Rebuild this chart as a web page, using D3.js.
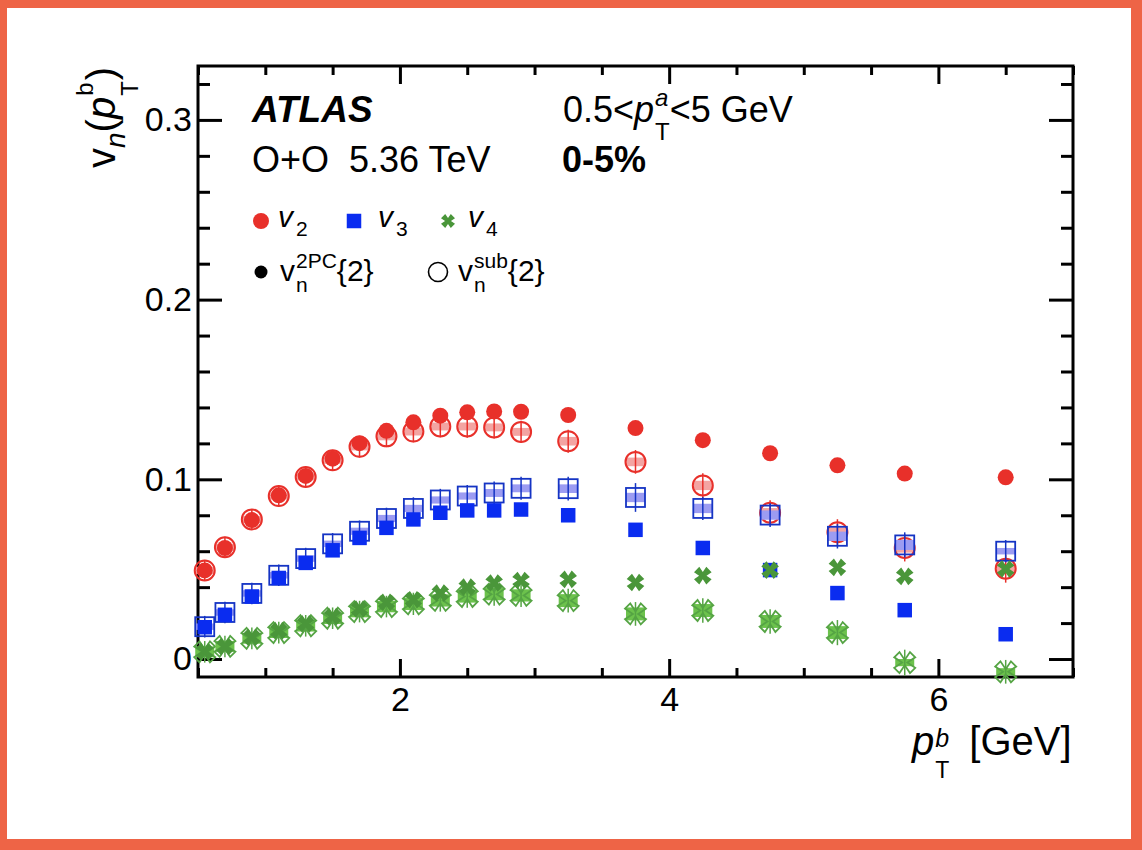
<!DOCTYPE html>
<html>
<head>
<meta charset="utf-8">
<script src="https://cdn.jsdelivr.net/npm/d3@7"></script>
<style>
  body { margin: 0; background: #fff; }
  text { font-family: "Liberation Sans", Arial, Helvetica, sans-serif; fill: #000; }
</style>
</head>
<body>
<svg id="chart" width="1142" height="850"></svg>
<script>
// pT^b bin centres [GeV]
const pt = [0.55, 0.7, 0.9, 1.1, 1.3, 1.5, 1.7, 1.9, 2.1, 2.3, 2.5, 2.7, 2.9, 3.25, 3.75, 4.25, 4.75, 5.25, 5.75, 6.5];

// v_n^{2PC}{2}
const v2_2pc = [0.0493, 0.0618, 0.0773, 0.0911, 0.1019, 0.1115, 0.1201, 0.1270, 0.1317, 0.1354, 0.1373, 0.1378, 0.1376, 0.1358, 0.1285, 0.1218, 0.1145, 0.1078, 0.1032, 0.1011];
const v3_2pc = [0.0177, 0.0246, 0.0348, 0.0451, 0.0535, 0.0605, 0.0674, 0.0730, 0.0777, 0.0814, 0.0827, 0.0827, 0.0832, 0.0800, 0.0719, 0.0618, 0.0495, 0.0367, 0.0272, 0.0138];
const v4_2pc = [0.0041, 0.0069, 0.0121, 0.0158, 0.0196, 0.0236, 0.0278, 0.0315, 0.0330, 0.0367, 0.0400, 0.0423, 0.0437, 0.0443, 0.0426, 0.0464, 0.0495, 0.0510, 0.0460, 0.0501];

// v_n^{sub}{2}
const v2_sub = [0.0493, 0.0622, 0.0777, 0.0907, 0.1013, 0.1106, 0.1181, 0.1239, 0.1266, 0.1294, 0.1294, 0.1289, 0.1264, 0.1212, 0.1097, 0.0966, 0.0814, 0.0706, 0.0618, 0.0503];
const v3_sub = [0.0180, 0.0259, 0.0365, 0.0466, 0.0559, 0.0641, 0.0711, 0.0782, 0.0838, 0.0885, 0.0907, 0.0924, 0.0950, 0.0948, 0.0899, 0.0838, 0.0801, 0.0683, 0.0635, 0.0600];
const v4_sub = [0.0040, 0.0070, 0.0115, 0.0147, 0.0185, 0.0227, 0.0264, 0.0292, 0.0307, 0.0326, 0.0348, 0.0361, 0.0354, 0.0325, 0.0251, 0.0270, 0.0209, 0.0147, -0.0020, -0.0071];

// statistical errors of the sub points
const v2_sub_stat = [0.0058, 0.0058, 0.0058, 0.0058, 0.0058, 0.0058, 0.0060, 0.0060, 0.0060, 0.0060, 0.0062, 0.0062, 0.0062, 0.0064, 0.0066, 0.0068, 0.0070, 0.0072, 0.0075, 0.0078];
const v3_sub_stat = [0.0060, 0.0060, 0.0060, 0.0060, 0.0060, 0.0060, 0.0060, 0.0060, 0.0062, 0.0062, 0.0062, 0.0064, 0.0064, 0.0066, 0.0080, 0.0064, 0.0066, 0.0068, 0.0070, 0.0062];
const v4_sub_stat = [0.0060, 0.0060, 0.0060, 0.0060, 0.0060, 0.0060, 0.0060, 0.0060, 0.0062, 0.0062, 0.0062, 0.0064, 0.0064, 0.0066, 0.0066, 0.0068, 0.0068, 0.0070, 0.0072, 0.0066];

// systematic errors of the sub points (boxes)
const v2_sub_sys = [0.0020, 0.0020, 0.0020, 0.0020, 0.0020, 0.0020, 0.0020, 0.0022, 0.0022, 0.0022, 0.0022, 0.0022, 0.0022, 0.0024, 0.0024, 0.0026, 0.0026, 0.0026, 0.0026, 0.0026];
const v3_sub_sys = [0.0018, 0.0018, 0.0018, 0.0018, 0.0018, 0.0018, 0.0020, 0.0020, 0.0020, 0.0020, 0.0020, 0.0022, 0.0022, 0.0024, 0.0026, 0.0026, 0.0026, 0.0026, 0.0028, 0.0018];
const v4_sub_sys = [0.0030, 0.0030, 0.0030, 0.0030, 0.0032, 0.0032, 0.0032, 0.0032, 0.0034, 0.0034, 0.0034, 0.0034, 0.0034, 0.0036, 0.0036, 0.0036, 0.0036, 0.0036, 0.0020, 0.0020];

const xMajor = [2, 4, 6];
const xMinor = [0.5, 1, 1.5, 2.5, 3, 3.5, 4.5, 5, 5.5, 6.5, 7];
const yMajor = [0, 0.1, 0.2, 0.3];
const yMinor = [0.02, 0.04, 0.06, 0.08, 0.12, 0.14, 0.16, 0.18, 0.22, 0.24, 0.26, 0.28, 0.32];

const svg = d3.select('#chart');
const W = 1142, H = 850;

// orange frame round the picture
svg.append('rect').attr('width', W).attr('height', H).attr('fill', '#ee6446');
svg.append('rect').attr('x', 7).attr('y', 8).attr('width', 1124).attr('height', 831).attr('fill', '#fff');

const x = d3.scaleLinear().domain([0.5, 7]).range([198, 1073]);
const y = d3.scaleLinear().domain([-0.01, 0.33]).range([677, 66]);
const [x0, x1] = x.range();
const [y0, y1] = y.range();

// axes: ticks point inward on all four sides
const xFmt = d3.format('d');
const yFmt = d => d === 0 ? '0' : d3.format('.1f')(d);
function styleAxis(g) {
    g.select('.domain').remove();
    g.selectAll('line').attr('stroke', '#000').attr('stroke-width', 3);
    g.selectAll('text').attr('font-size', 34).attr('font-family', '"Liberation Sans", Arial, sans-serif').attr('fill', '#000');
}
svg.append('g').attr('transform', `translate(0,${y0})`)
    .call(d3.axisBottom(x).tickValues(xMajor).tickSize(-18).tickPadding(10).tickFormat(xFmt)).call(styleAxis);
svg.append('g').attr('transform', `translate(0,${y0})`)
    .call(d3.axisBottom(x).tickValues(xMinor).tickSize(-9).tickFormat('')).call(styleAxis);
svg.append('g').attr('transform', `translate(0,${y1})`)
    .call(d3.axisTop(x).tickValues(xMajor).tickSize(-18).tickFormat('')).call(styleAxis);
svg.append('g').attr('transform', `translate(0,${y1})`)
    .call(d3.axisTop(x).tickValues(xMinor).tickSize(-9).tickFormat('')).call(styleAxis);
svg.append('g').attr('transform', `translate(${x0},0)`)
    .call(d3.axisLeft(y).tickValues(yMajor).tickSize(-24).tickPadding(6).tickFormat(yFmt)).call(styleAxis);
svg.append('g').attr('transform', `translate(${x0},0)`)
    .call(d3.axisLeft(y).tickValues(yMinor).tickSize(-12).tickFormat('')).call(styleAxis);
svg.append('g').attr('transform', `translate(${x1},0)`)
    .call(d3.axisRight(y).tickValues(yMajor).tickSize(-24).tickFormat('')).call(styleAxis);
svg.append('g').attr('transform', `translate(${x1},0)`)
    .call(d3.axisRight(y).tickValues(yMinor).tickSize(-12).tickFormat('')).call(styleAxis);

svg.append('rect').attr('x', x0).attr('y', y1).attr('width', x1 - x0).attr('height', y0 - y1)
    .attr('fill', 'none').attr('stroke', '#000').attr('stroke-width', 3);

// ROOT style "four triangles X" marker; notch sets how deep the cuts go
function fourTriX(r, notch, corner) {
    const n = notch, c = corner;
    const p = [[0, n], [c, 1], [1, c], [n, 0], [1, -c], [c, -1],
               [0, -n], [-c, -1], [-1, -c], [-n, 0], [-1, c], [-c, 1]];
    return 'M' + p.map(q => (q[0] * r).toFixed(2) + ',' + (q[1] * r).toFixed(2)).join('L') + 'Z';
}

const plot = svg.append('g');

const series = [
    { filled: v2_2pc, open: v2_sub, stat: v2_sub_stat, sys: v2_sub_sys, shape: 'circle',
      color: '#e8302a', line: '#e8302a', box: '#f3a4a2' },
    { filled: v3_2pc, open: v3_sub, stat: v3_sub_stat, sys: v3_sub_sys, shape: 'square',
      color: '#0a2cf0', line: '#1534c4', box: '#9c9cf2' },
    { filled: v4_2pc, open: v4_sub, stat: v4_sub_stat, sys: v4_sub_sys, shape: 'x',
      color: '#4a963a', line: '#55a444', box: '#6cc24c' },
];

function marker(g, shape, filled, color, cx, cy) {
    if (shape === 'circle') {
        g.append('circle').attr('cx', cx).attr('cy', cy).attr('r', filled ? 8 : 10)
            .attr('fill', filled ? color : 'none').attr('stroke', color).attr('stroke-width', filled ? 0 : 2);
    } else if (shape === 'square') {
        const s = filled ? 14.5 : 19;
        g.append('rect').attr('x', cx - s / 2).attr('y', cy - s / 2).attr('width', s).attr('height', s)
            .attr('fill', filled ? color : 'none').attr('stroke', color).attr('stroke-width', filled ? 0 : 1.8);
    } else if (filled) {
        g.append('path').attr('d', fourTriX(8.8, 0.42, 0.4)).attr('transform', `translate(${cx},${cy})`)
            .attr('fill', color);
    } else {
        g.append('path').attr('d', fourTriX(10.5, 0.25, 0.5)).attr('transform', `translate(${cx},${cy})`)
            .attr('fill', 'none').attr('stroke', color).attr('stroke-width', 1.8);
    }
}

series.forEach(s => {
    const g = plot.append('g');
    pt.forEach((p, i) => {
        const cx = x(p), cy = y(s.open[i]);
        g.append('rect').attr('x', cx - 9.5).attr('y', y(s.open[i] + s.sys[i]))
            .attr('width', 19).attr('height', y(s.open[i] - s.sys[i]) - y(s.open[i] + s.sys[i]))
            .attr('fill', s.box);
        g.append('line').attr('x1', cx).attr('x2', cx)
            .attr('y1', y(s.open[i] + s.stat[i])).attr('y2', y(s.open[i] - s.stat[i]))
            .attr('stroke', s.line).attr('stroke-width', 1.5);
        marker(g, s.shape, false, s.line, cx, cy);
    });
    pt.forEach((p, i) => marker(g, s.shape, true, s.color, x(p), y(s.filled[i])));
});

// text with sub/superscripts; segments with stack:true share x with the previous one
function rich(parent, x0, y0, segs) {
    let cx = x0, lastStart = x0;
    segs.forEach(s => {
        const start = (s.stack ? lastStart : cx) + (s.dx || 0);
        const t = parent.append('text').attr('x', start).attr('y', y0 + (s.shift || 0))
            .attr('font-size', s.size)
            .attr('font-style', s.italic ? 'italic' : 'normal')
            .attr('font-weight', s.bold ? 'bold' : 'normal')
            .style('white-space', 'pre').text(s.t);
        const w = t.node().getComputedTextLength();
        if (!s.stack) lastStart = start;
        cx = Math.max(cx, start + w);
    });
}

rich(svg, 252, 122, [{ t: 'ATLAS', size: 37, bold: true, italic: true }]);
rich(svg, 252, 172, [{ t: 'O+O  5.36 TeV', size: 36 }]);
rich(svg, 563, 122, [
    { t: '0.5<', size: 36 },
    { t: 'p', size: 36, italic: true },
    { t: 'a', size: 24, italic: true, shift: -16, dx: 1 },
    { t: 'T', size: 24, shift: 18, stack: true },
    { t: '<5 GeV', size: 36 },
]);
rich(svg, 562, 172, [{ t: '0-5%', size: 36, bold: true }]);

// legend
const leg = svg.append('g');
marker(leg, 'circle', true, '#e8302a', 261, 221);
marker(leg, 'square', true, '#0a2cf0', 354, 221);
leg.append('path').attr('d', fourTriX(7, 0.42, 0.4)).attr('transform', 'translate(448,221)').attr('fill', '#4a963a');
[[278, '2'], [378, '3'], [468, '4']].forEach(d => rich(leg, d[0], 227, [
    { t: 'v', size: 30, italic: true },
    { t: d[1], size: 21, shift: 9, dx: 3 },
]));
leg.append('circle').attr('cx', 261).attr('cy', 272).attr('r', 6.5).attr('fill', '#000');
leg.append('circle').attr('cx', 438).attr('cy', 272).attr('r', 9.5).attr('fill', 'none').attr('stroke', '#000').attr('stroke-width', 1.6);
rich(leg, 280, 281, [
    { t: 'v', size: 30 },
    { t: '2PC', size: 21, shift: -13, dx: 1 },
    { t: 'n', size: 21, shift: 11, stack: true },
    { t: '{2}', size: 30 },
]);
rich(leg, 458, 281, [
    { t: 'v', size: 30 },
    { t: 'sub', size: 21, shift: -13, dx: 1 },
    { t: 'n', size: 21, shift: 11, stack: true },
    { t: '{2}', size: 30 },
]);

// axis titles
rich(svg, 912, 755, [
    { t: 'p', size: 40, italic: true },
    { t: 'b', size: 25, italic: true, shift: -8, dx: 1 },
    { t: 'T', size: 23, shift: 23, stack: true },
    { t: '[GeV]', size: 40, dx: 20 },
]);
const yt = svg.append('g').attr('transform', 'translate(115,168) rotate(-90)');
rich(yt, 0, 0, [
    { t: 'v', size: 40 },
    { t: 'n', size: 28, italic: true, shift: 10 },
    { t: '(', size: 40 },
    { t: 'p', size: 40, italic: true },
    { t: 'b', size: 24, shift: -22, dx: 1 },
    { t: 'T', size: 24, shift: 23, stack: true },
    { t: ')', size: 40, dx: 1 },
]);
</script>
</body>
</html>
